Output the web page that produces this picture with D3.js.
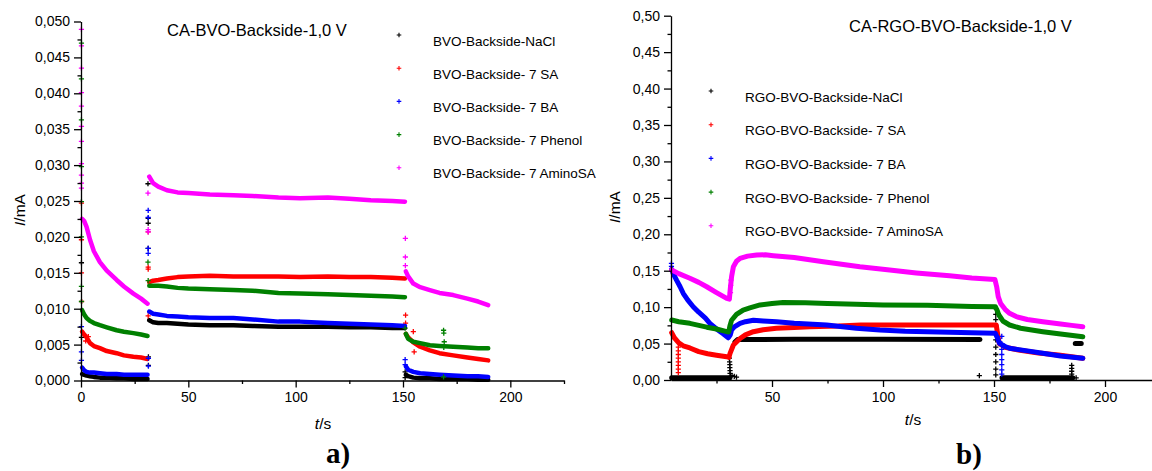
<!DOCTYPE html>
<html><head><meta charset="utf-8">
<script src="https://cdn.jsdelivr.net/npm/d3@7"></script>
<style>
body{margin:0;background:#fff}
svg text{font-family:"Liberation Sans",Arial,sans-serif;fill:#000}
svg text.plabel{font-family:"Liberation Serif","Times New Roman",serif;font-weight:bold}
</style>
</head><body>
<svg id="chart" width="1152" height="471"></svg>
<script>
// ---------- categories / labels ----------
const seriesKeys = ["NaCl", "SA", "BA", "Phenol", "AminoSA"];
const seriesColors = ["#000000", "#ff0000", "#0000ff", "#008000", "#ff00ff"];
const leftLegend = ["BVO-Backside-NaCl", "BVO-Backside- 7 SA", "BVO-Backside- 7 BA", "BVO-Backside- 7 Phenol", "BVO-Backside- 7 AminoSA"];
const rightLegend = ["RGO-BVO-Backside-NaCl", "RGO-BVO-Backside- 7 SA", "RGO-BVO-Backside- 7 BA", "RGO-BVO-Backside- 7 Phenol", "RGO-BVO-Backside- 7 AminoSA"];
const leftTitle = "CA-BVO-Backside-1,0 V";
const rightTitle = "CA-RGO-BVO-Backside-1,0 V";
const panelLabels = ["a)", "b)"];

// ---------- ticks ----------
const leftYTicks = [0, 0.005, 0.010, 0.015, 0.020, 0.025, 0.030, 0.035, 0.040, 0.045, 0.050];
const leftYMinor = [0.0025, 0.0075, 0.0125, 0.0175, 0.0225, 0.0275, 0.0325, 0.0375, 0.0425, 0.0475];
const leftXTicks = [0, 50, 100, 150, 200];
const leftXMinor = [25, 75, 125, 175, 225];
const rightYTicks = [0, 0.05, 0.10, 0.15, 0.20, 0.25, 0.30, 0.35, 0.40, 0.45, 0.50];
const rightYMinor = [0.025, 0.075, 0.125, 0.175, 0.225, 0.275, 0.325, 0.375, 0.425, 0.475];
const rightXTicks = [50, 100, 150, 200];
const rightXMinor = [25, 75, 125, 175, 225];

// ---------- left panel (BVO) data: three phases ----------
const tA = [0.5, 1.5, 2.6, 4.2, 6, 8.8, 12, 16.6, 20, 24.4, 28, 31];
const tB = [31.8, 33.6, 36, 40, 45, 50, 60, 71, 80, 92, 102, 115, 125, 135, 145, 150.9];
const tC = [151.3, 152.4, 154.8, 158, 162.5, 167, 173.4, 180, 185, 189.7];

const bvoNaClA = [0.0009, 0.0008, 0.0007, 0.0006, 0.0005, 0.0004, 0.0004, 0.0003, 0.0003, 0.0002, 0.0002, 0.0002];
const bvoNaClB = [0.0084, 0.0081, 0.0080, 0.0080, 0.0079, 0.0078, 0.0077, 0.0077, 0.0076, 0.0075, 0.0075, 0.0075, 0.0074, 0.0074, 0.0073, 0.0073];
const bvoNaClC = [0.0008, 0.0006, 0.0004, 0.0003, 0.0003, 0.0002, 0.0002, 0.0002, 0.0001, 0.0001];

const bvoSAA = [0.0068, 0.0064, 0.0060, 0.0052, 0.0048, 0.0045, 0.0041, 0.0038, 0.0035, 0.0033, 0.0032, 0.0030];
const bvoSAB = [0.0137, 0.0139, 0.0140, 0.0142, 0.0144, 0.0145, 0.0146, 0.0145, 0.0145, 0.0145, 0.0144, 0.0145, 0.0144, 0.0144, 0.0143, 0.0142];
const bvoSAC = [0.0065, 0.0060, 0.0053, 0.0047, 0.0042, 0.0038, 0.0035, 0.0032, 0.0030, 0.0028];

const bvoBAA = [0.0018, 0.0014, 0.0012, 0.0011, 0.0011, 0.0010, 0.0009, 0.0009, 0.0008, 0.0008, 0.0008, 0.0008];
const bvoBAB = [0.0096, 0.0093, 0.0092, 0.0090, 0.0089, 0.0088, 0.0087, 0.0087, 0.0085, 0.0082, 0.0082, 0.0080, 0.0079, 0.0078, 0.0077, 0.0076];
const bvoBAC = [0.0020, 0.0015, 0.0012, 0.0010, 0.0009, 0.0008, 0.0007, 0.0006, 0.0006, 0.0005];

const bvoPhenolA = [0.0098, 0.0092, 0.0087, 0.0083, 0.0080, 0.0077, 0.0074, 0.0070, 0.0068, 0.0066, 0.0064, 0.0062];
const bvoPhenolB = [0.0132, 0.0132, 0.0132, 0.0131, 0.0129, 0.0128, 0.0127, 0.0126, 0.0125, 0.0122, 0.0121, 0.0120, 0.0119, 0.0118, 0.0117, 0.0116];
const bvoPhenolC = [0.0065, 0.0058, 0.0054, 0.0052, 0.0049, 0.0048, 0.0047, 0.0046, 0.0045, 0.0045];

const bvoAminoA = [0.0225, 0.0222, 0.0214, 0.0196, 0.0180, 0.0165, 0.0153, 0.0140, 0.0131, 0.0121, 0.0114, 0.0107];
const bvoAminoB = [0.0284, 0.0275, 0.0270, 0.0265, 0.0262, 0.0261, 0.0259, 0.0258, 0.0257, 0.0255, 0.0254, 0.0255, 0.0253, 0.0251, 0.0250, 0.0249];
const bvoAminoC = [0.0152, 0.0145, 0.0135, 0.0130, 0.0126, 0.0122, 0.0119, 0.0114, 0.0110, 0.0105];

// scattered transient points [t, I]
const bvoNaClSpikes = [[0.2, 0.0164], [0.2, 0.0060], [31.2, 0.0274], [31.3, 0.0226], [31.3, 0.0219], [31.3, 0.0184], [31.4, 0.0033], [31.4, 0.0021], [151, 0.0012], [151, 0.0004]];
const bvoSASpikes = [[0.2, 0.0247], [0.2, 0.0196], [0.2, 0.0150], [0.3, 0.0110], [3.4, 0.0061], [2.2, 0.0055], [31.3, 0.0207], [31.3, 0.0158], [31.3, 0.0155], [31.3, 0.0090], [151.2, 0.0091], [151.2, 0.0080], [154.8, 0.0068], [155.2, 0.0040]];
const bvoBASpikes = [[0.2, 0.0075], [0.2, 0.0040], [0.2, 0.0028], [31.3, 0.0237], [31.3, 0.0227], [31.3, 0.0184], [31.3, 0.0177], [31.4, 0.0031], [31.4, 0.0020], [151, 0.0029], [151, 0.0022]];
const bvoPhenolSpikes = [[0.2, 0.0470], [0.2, 0.0420], [0.2, 0.0363], [0.2, 0.0298], [0.2, 0.0249], [0.2, 0.0200], [0.2, 0.0131], [0.2, 0.0110], [31.2, 0.0165], [31.3, 0.0139], [151, 0.0073], [168.9, 0.0070], [169, 0.0066], [169.2, 0.0054], [169, 0.0046], [168.9, 0.0005]];
const bvoAminoSpikes = [[0.2, 0.0489], [0.2, 0.0466], [0.2, 0.0435], [0.2, 0.0401], [0.2, 0.0382], [0.2, 0.0354], [0.2, 0.0333], [0.2, 0.0302], [0.2, 0.0286], [0.2, 0.0275], [0.2, 0.0268], [31.2, 0.0261], [31.3, 0.0207], [31.3, 0.0210], [151.1, 0.0198], [151.1, 0.0172], [151.1, 0.0160]];

// ---------- right panel (RGO-BVO) data: [t, I], null = gap ----------
const rgoNaCl = [[4.8, 0.003], [15, 0.003], [25, 0.003], [31, 0.003], [31.5, null],
  [33.3, 0.052], [34.5, 0.0555], [60, 0.0558], [100, 0.0558], [143.7, 0.0555], [144, null],
  [153.6, 0.003], [170, 0.003], [185.5, 0.003], [186, null], [186.6, 0.050], [189.3, 0.050]];
const rgoSA = [[4.8, 0.065], [6, 0.058], [8, 0.051], [10, 0.047], [13, 0.044], [17, 0.039], [21, 0.036], [25, 0.034], [29.6, 0.032], [30.6, 0.031],
  [31.1, 0.0366], [32.6, 0.048], [35.6, 0.057], [38, 0.062], [41.6, 0.0663], [46, 0.069], [52, 0.071], [60, 0.072], [67, 0.0732], [80, 0.074],
  [90, 0.0755], [110, 0.0755], [130, 0.0755], [151, 0.0755], [151.7, 0.062], [152.4, 0.050], [155, 0.045], [161, 0.0412], [170, 0.037], [179, 0.0343], [185, 0.032], [190, 0.0298]];
const rgoBA = [[4.8, 0.152], [5.5, 0.146], [7, 0.137], [8.6, 0.128], [10, 0.119], [12, 0.110], [14.5, 0.1006], [17, 0.093], [20, 0.085], [22, 0.0778], [25, 0.070], [28, 0.0635], [30.3, 0.058],
  [31.2, 0.062], [31.8, 0.0686], [33, 0.073], [35.6, 0.0778], [38, 0.080], [41.6, 0.082], [46, 0.081], [52, 0.080], [60, 0.078], [74.6, 0.0755], [88, 0.071], [98.6, 0.0686],
  [110, 0.067], [125, 0.066], [140, 0.065], [150.6, 0.064], [151.5, 0.058], [152.5, 0.0503], [155, 0.046], [157, 0.0435], [165, 0.040], [172, 0.0366], [180, 0.033], [190, 0.0298]];
const rgoPhenol = [[4.8, 0.0823], [8, 0.080], [13, 0.0778], [20.6, 0.0725], [25, 0.070], [29.6, 0.0663], [30.5, 0.066],
  [31.1, 0.075], [31.8, 0.082], [34, 0.090], [37, 0.096], [40, 0.099], [44.6, 0.103], [50, 0.105], [55, 0.1065], [65, 0.106], [75, 0.105], [88, 0.104],
  [100, 0.103], [120, 0.1025], [140, 0.101], [150.6, 0.1006], [151.5, 0.095], [152.2, 0.0892], [154, 0.081], [157, 0.0755], [162, 0.071], [172, 0.0663], [180, 0.063], [190, 0.0594]];
const rgoAmino = [[4.8, 0.151], [8, 0.146], [13, 0.1396], [17, 0.134], [20.6, 0.128], [25, 0.120], [29.6, 0.112], [30.8, 0.111],
  [31.2, 0.125], [31.8, 0.142], [32.6, 0.1555], [34, 0.163], [35.6, 0.167], [39, 0.170], [43.1, 0.1716], [47, 0.1718], [50.6, 0.1706], [60, 0.168],
  [73.1, 0.1624], [89.6, 0.1555], [103, 0.151], [115, 0.147], [130, 0.143], [140, 0.140], [150.4, 0.138], [151.2, 0.128], [151.9, 0.1143], [153, 0.105],
  [155, 0.097], [157, 0.0915], [160, 0.087], [165, 0.083], [172, 0.080], [180, 0.077], [185, 0.075], [190, 0.0732]];

const rgoNaClSpikes = [[30.8, 0.030], [30.9, 0.025], [31, 0.021], [31, 0.017], [31.1, 0.013], [31.1, 0.009], [31.3, 0.005], [32, 0.006], [33, 0.005], [34, 0.004],
  [143.4, 0.006], [150.8, 0.098], [150.8, 0.090], [150.8, 0.083], [150.8, 0.075], [150.8, 0.065], [150.8, 0.055], [150.8, 0.045], [150.8, 0.035], [150.8, 0.025], [150.8, 0.015], [150.8, 0.007],
  [185, 0.020], [185, 0.016], [185, 0.012], [185, 0.008], [185, 0.004], [187, 0.003]];
const rgoSASpikes = [[7.8, 0.045], [7.8, 0.040], [7.8, 0.035], [7.8, 0.030], [7.8, 0.025], [7.8, 0.020], [7.8, 0.015], [7.8, 0.010]];
const rgoBASpikes = [[4.7, 0.160], [4.7, 0.156], [153.5, 0.060], [153.5, 0.050], [153.5, 0.042], [153.5, 0.035], [153.5, 0.028], [153.5, 0.021], [153.5, 0.014], [153.5, 0.008]];
const rgoPhenolSpikes = [];
const rgoAminoSpikes = [[31.3, 0.120], [31.4, 0.130], [31.5, 0.137]];

// ---------- assemble ----------
const zip = (ts, vs) => ts.map((t, i) => [t, vs[i]]);
const leftSeries = [
  [zip(tA, bvoNaClA), zip(tB, bvoNaClB), zip(tC, bvoNaClC)],
  [zip(tA, bvoSAA), zip(tB, bvoSAB), zip(tC, bvoSAC)],
  [zip(tA, bvoBAA), zip(tB, bvoBAB), zip(tC, bvoBAC)],
  [zip(tA, bvoPhenolA), zip(tB, bvoPhenolB), zip(tC, bvoPhenolC)],
  [zip(tA, bvoAminoA), zip(tB, bvoAminoB), zip(tC, bvoAminoC)]
];
const leftSpikes = [bvoNaClSpikes, bvoSASpikes, bvoBASpikes, bvoPhenolSpikes, bvoAminoSpikes];
const rightSeries = [[rgoNaCl], [rgoSA], [rgoBA], [rgoPhenol], [rgoAmino]];
const rightSpikes = [rgoNaClSpikes, rgoSASpikes, rgoBASpikes, rgoPhenolSpikes, rgoAminoSpikes];

const svg = d3.select("#chart");
const fmtL = d => d3.format(".3f")(d).replace(".", ",");
const fmtR = d => d3.format(".2f")(d).replace(".", ",");
const plusPath = s => `M${-s},0H${s}M0,${-s}V${s}`;

function panel(cfg) {
  const x = d3.scaleLinear().domain(cfg.xDomain).range(cfg.xRange);
  const y = d3.scaleLinear().domain(cfg.yDomain).range(cfg.yRange);
  const g = svg.append("g");

  // data lines
  const line = d3.line().defined(d => d[1] != null).x(d => x(d[0])).y(d => y(d[1]));
  cfg.series.forEach((segs, i) => {
    segs.forEach(seg => {
      g.append("path").attr("d", line(seg)).attr("fill", "none")
        .attr("stroke", seriesColors[i]).attr("stroke-width", cfg.lw)
        .attr("stroke-linejoin", "round").attr("stroke-linecap", "round");
    });
    g.selectAll(null).data(cfg.spikes[i]).enter().append("path")
      .attr("transform", d => `translate(${x(d[0])},${y(d[1])})`)
      .attr("d", plusPath(2.6)).attr("stroke", seriesColors[i]).attr("stroke-width", 1.3).attr("fill", "none");
  });

  // axes
  g.append("g").attr("transform", `translate(${cfg.xRange[0]},0)`)
    .call(d3.axisLeft(y).tickValues(cfg.yTicks).tickFormat(cfg.fmt).tickSize(7).tickPadding(4).tickSizeOuter(0));
  g.append("g").attr("transform", `translate(${cfg.xRange[0]},0)`)
    .call(d3.axisLeft(y).tickValues(cfg.yMinor).tickFormat("").tickSize(3.5).tickSizeOuter(0))
    .select(".domain").remove();
  g.append("g").attr("transform", `translate(0,${cfg.yRange[0]})`)
    .call(d3.axisBottom(x).tickValues(cfg.xTicks).tickSize(7).tickPadding(5).tickSizeOuter(0));
  g.append("g").attr("transform", `translate(0,${cfg.yRange[0]})`)
    .call(d3.axisBottom(x).tickValues(cfg.xMinor).tickFormat("").tickSize(3.5).tickSizeOuter(0))
    .select(".domain").remove();
  g.selectAll(".domain, .tick line").attr("stroke", "#000").attr("stroke-width", 1.3);
  g.selectAll(".tick text").attr("font-size", 14).attr("fill", "#000");

  // axis titles
  const yt = g.append("text").attr("transform", `translate(${cfg.yLabelPos[0]},${cfg.yLabelPos[1]}) rotate(-90)`)
    .attr("text-anchor", "middle").attr("font-size", 15.5);
  yt.append("tspan").attr("font-style", "italic").text("I");
  yt.append("tspan").text("/mA");
  const xt = g.append("text").attr("x", cfg.xLabelPos[0]).attr("y", cfg.xLabelPos[1])
    .attr("text-anchor", "middle").attr("font-size", 15.5);
  xt.append("tspan").attr("font-style", "italic").text("t");
  xt.append("tspan").text("/s");

  // title
  g.append("text").attr("x", cfg.titlePos[0]).attr("y", cfg.titlePos[1]).attr("font-size", 16.5).text(cfg.title);

  // legend
  const lg = g.selectAll(null).data(cfg.legend).enter().append("g")
    .attr("transform", (d, i) => `translate(${cfg.legPos[0]},${cfg.legPos[1] + i * cfg.legStep})`);
  lg.append("path").attr("d", plusPath(2.3)).attr("stroke", (d, i) => seriesColors[i]).attr("stroke-width", 1.1);
  lg.append("text").attr("x", cfg.legTextDx).attr("y", 10.5).attr("font-size", 13.5).text(d => d);

  // panel label
  g.append("text").attr("class", "plabel").attr("x", cfg.panelLabelPos[0]).attr("y", cfg.panelLabelPos[1])
    .attr("text-anchor", "middle").attr("font-size", 29).text(cfg.panelLabel);
}

panel({
  xDomain: [0, 225], xRange: [81, 564], yDomain: [0, 0.05], yRange: [380.5, 21.5],
  series: leftSeries, spikes: leftSpikes, lw: 4.5,
  yTicks: leftYTicks, yMinor: leftYMinor, xTicks: leftXTicks, xMinor: leftXMinor, fmt: fmtL,
  yLabelPos: [25, 210], xLabelPos: [323, 429],
  title: leftTitle, titlePos: [167, 36],
  legend: leftLegend, legPos: [399, 35], legStep: 33.2, legTextDx: 34,
  panelLabel: panelLabels[0], panelLabelPos: [338, 463]
});
panel({
  xDomain: [4.5, 225], xRange: [671, 1160.5], yDomain: [0, 0.5], yRange: [380, 15.7],
  series: rightSeries, spikes: rightSpikes, lw: 5,
  yTicks: rightYTicks, yMinor: rightYMinor, xTicks: rightXTicks, xMinor: rightXMinor, fmt: fmtR,
  yLabelPos: [620, 207], xLabelPos: [913, 425],
  title: rightTitle, titlePos: [849, 32],
  legend: rightLegend, legPos: [711, 91], legStep: 33.7, legTextDx: 34,
  panelLabel: panelLabels[1], panelLabelPos: [969, 464]
});
</script>
</body></html>
